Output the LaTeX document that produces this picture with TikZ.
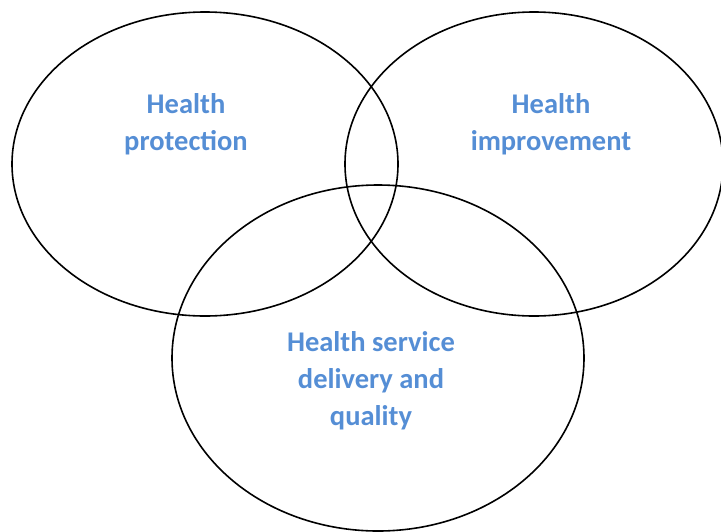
\documentclass[tikz,border=0pt]{standalone}
\usepackage{fontspec}
\setmainfont{Carlito}
\definecolor{areablue}{RGB}{85,142,213}
\tikzset{
    area/.style={draw=black, line width=1.6pt},
    arealabel/.style={text=areablue, font=\fontsize{28.5}{37}\selectfont\bfseries, align=center}
}

\begin{document}
\begin{tikzpicture}[x=1pt, y=-1pt]
    \useasboundingbox (0,0) rectangle (721,531);
    \draw[area] (205,164) ellipse [x radius=193, y radius=152];
    \draw[area] (534,164) ellipse [x radius=189, y radius=152];
    \draw[area] (378,358) ellipse [x radius=206, y radius=173];

    \node[arealabel] (protection) at (186,124) {Health\\protection};
    \node[arealabel] (improvement) at (551,124) {Health\\improvement};
    \node[arealabel] (delivery) at (371,381) {Health service\\delivery and\\quality};
\end{tikzpicture}
\end{document}
